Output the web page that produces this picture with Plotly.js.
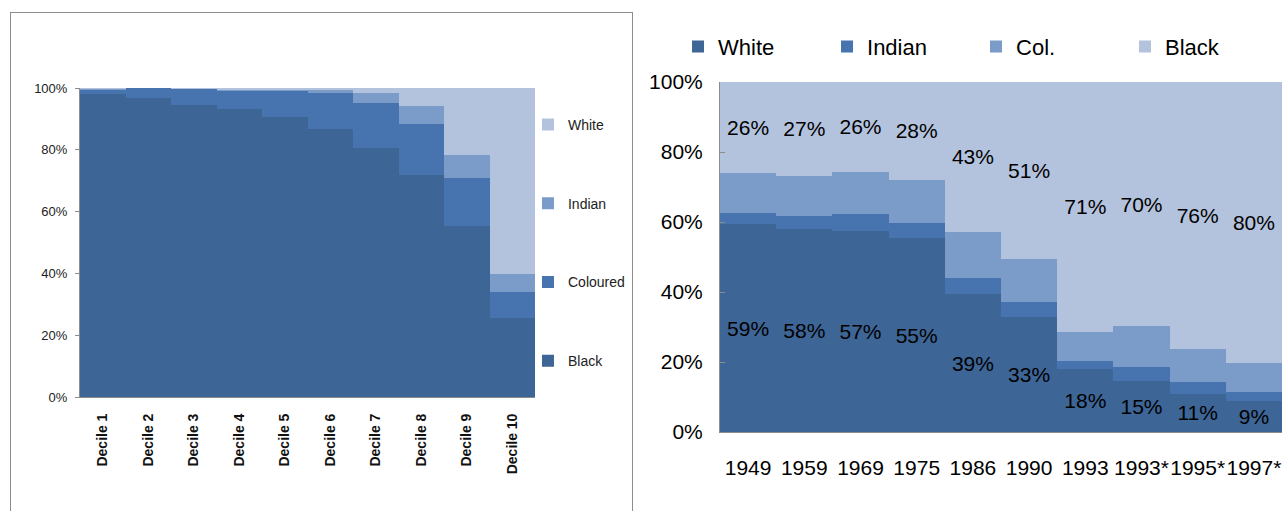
<!DOCTYPE html>
<html>
<head>
<meta charset="utf-8">
<script src="https://cdn.plot.ly/plotly-3.0.1.min.js"></script>
<style>
  html, body { margin: 0; padding: 0; width: 1282px; height: 511px; overflow: hidden; background: #ffffff; }
  #leftBox { position: absolute; left: 10px; top: 12px; width: 623px; height: 520px; border: 1px solid #8c8c8c; box-sizing: border-box; background: #fff; }
  #left { position: absolute; left: 0; top: 0; width: 621px; height: 518px; }
  #right { position: absolute; left: 640px; top: 0; width: 642px; height: 511px; }
</style>
</head>
<body>
<div id="leftBox"><div id="left"></div></div>
<div id="right"></div>
<script>
// ---------- Left chart: race composition by income decile ----------
const deciles = ['Decile 1','Decile 2','Decile 3','Decile 4','Decile 5','Decile 6','Decile 7','Decile 8','Decile 9','Decile 10'];
const decBlack    = [98.0, 96.7, 94.5, 93.3, 90.6, 86.7, 80.7, 71.7, 55.3, 25.6];
const decColoured = [ 1.5,  3.2,  5.2,  5.8,  8.5, 11.7, 14.4, 16.6, 15.5,  8.4];
const decIndian   = [ 0.2,  0.05, 0.1,  0.3,  0.4,  1.0,  3.3,  5.9,  7.4,  5.8];
const decWhite    = [ 0.3,  0.05, 0.2,  0.6,  0.5,  0.6,  1.6,  5.8, 21.8, 60.2];

// ---------- Right chart: share of income by race over time ----------
const years      = ['1949','1959','1969','1975','1986','1990','1993','1993*','1995*','1997*'];
const shareWhite  = [59.4, 58.1, 57.4, 55.4, 39.4, 33.0, 18.0, 14.6, 10.9,  8.8];
const shareIndian = [ 3.1,  3.5,  5.0,  4.4,  4.7,  4.2,  2.4,  4.0,  3.4,  2.6];
const shareCol    = [11.6, 11.6, 12.0, 12.3, 13.1, 12.2,  8.3, 11.6,  9.5,  8.4];
const shareBlack  = [25.9, 26.8, 25.6, 27.9, 42.8, 50.6, 71.3, 69.8, 76.2, 80.2];

const C1 = '#3d6596', C2 = '#4774ae', C3 = '#7b9bc8', C4 = '#b4c3dd';
const FONT = '"Liberation Sans", Arial, sans-serif';

function leftTrace(name, y, color, g, rank) {
  return { type: 'bar', name: name, x: deciles, y: y, legendgroup: g, legendrank: rank,
    marker: { color: color, line: { width: 0 } }, hoverinfo: 'skip' };
}
const leftData = [
  leftTrace('Black', decBlack, C1, 'a', 4),
  leftTrace('Coloured', decColoured, C2, 'b', 3),
  leftTrace('Indian', decIndian, C3, 'c', 2),
  leftTrace('White', decWhite, C4, 'd', 1)
];
const leftLayout = {
  width: 621, height: 518,
  margin: { l: 69, r: 97, t: 75, b: 134, autoexpand: false },
  paper_bgcolor: '#ffffff', plot_bgcolor: '#ffffff',
  barmode: 'stack', bargap: 0,
  font: { family: FONT, size: 13, color: '#222' },
  showlegend: true,
  legend: { xref: 'container', yref: 'container', x: 0.8325, y: 0.815, xanchor: 'left', yanchor: 'top',
    traceorder: 'grouped', tracegroupgap: 57.6, font: { family: FONT, size: 14, color: '#222' },
    bgcolor: 'rgba(0,0,0,0)' },
  xaxis: { type: 'category', showgrid: false, showline: true, linecolor: '#8c8c8c', linewidth: 1,
    ticks: '', tickangle: -90, ticklabelstandoff: 10,
    tickfont: { family: FONT, size: 14, color: '#111', weight: 'bold' } },
  yaxis: { range: [0, 100], dtick: 20, ticksuffix: '%', showgrid: false, zeroline: false,
    showline: true, linecolor: '#8c8c8c', linewidth: 1, ticks: 'outside', ticklen: 4, tickcolor: '#8c8c8c',
    ticklabelstandoff: 5, tickfont: { family: FONT, size: 13, color: '#222' } }
};

function rightTrace(name, y, color, withText) {
  const t = { type: 'bar', name: name, x: years, y: y,
    marker: { color: color, line: { width: 0 } }, hoverinfo: 'skip' };
  if (withText) {
    t.texttemplate = '%{y:.0f}%';
    t.textposition = 'inside';
    t.insidetextanchor = 'middle';
    t.textangle = 0;
    t.constraintext = 'none';
    t.textfont = { family: FONT, size: 21, color: '#000' };
  }
  return t;
}
const rightData = [
  rightTrace('White', shareWhite, C1, true),
  rightTrace('Indian', shareIndian, C2, false),
  rightTrace('Col.', shareCol, C3, false),
  rightTrace('Black', shareBlack, C4, true)
];
const rightLayout = {
  width: 642, height: 511,
  margin: { l: 80, r: 0, t: 82, b: 79, autoexpand: false },
  paper_bgcolor: 'rgba(0,0,0,0)', plot_bgcolor: '#ffffff',
  barmode: 'stack', bargap: 0,
  font: { family: FONT, size: 21, color: '#000' },
  showlegend: true,
  legend: { orientation: 'h', x: -0.0747, y: 1.161,
    xanchor: 'left', yanchor: 'top', traceorder: 'normal', entrywidth: 104, entrywidthmode: 'pixels',
    font: { family: FONT, size: 22, color: '#000' }, bgcolor: 'rgba(0,0,0,0)' },
  xaxis: { type: 'category', showgrid: false, showline: true, linecolor: '#8c8c8c', linewidth: 1,
    ticks: '', tickangle: 0, ticklabelstandoff: 17, tickfont: { family: FONT, size: 21, color: '#000' } },
  yaxis: { range: [0, 100], dtick: 20, ticksuffix: '%', showgrid: false, zeroline: false,
    showline: true, linecolor: '#8c8c8c', linewidth: 1, ticks: 'inside', ticklen: 5, tickcolor: '#8c8c8c',
    ticklabelstandoff: 12, tickfont: { family: FONT, size: 21, color: '#000' } }
};

const cfg = { staticPlot: true, displayModeBar: false };
Plotly.newPlot('left', leftData, leftLayout, cfg);
Plotly.newPlot('right', rightData, rightLayout, cfg);
</script>
</body>
</html>
